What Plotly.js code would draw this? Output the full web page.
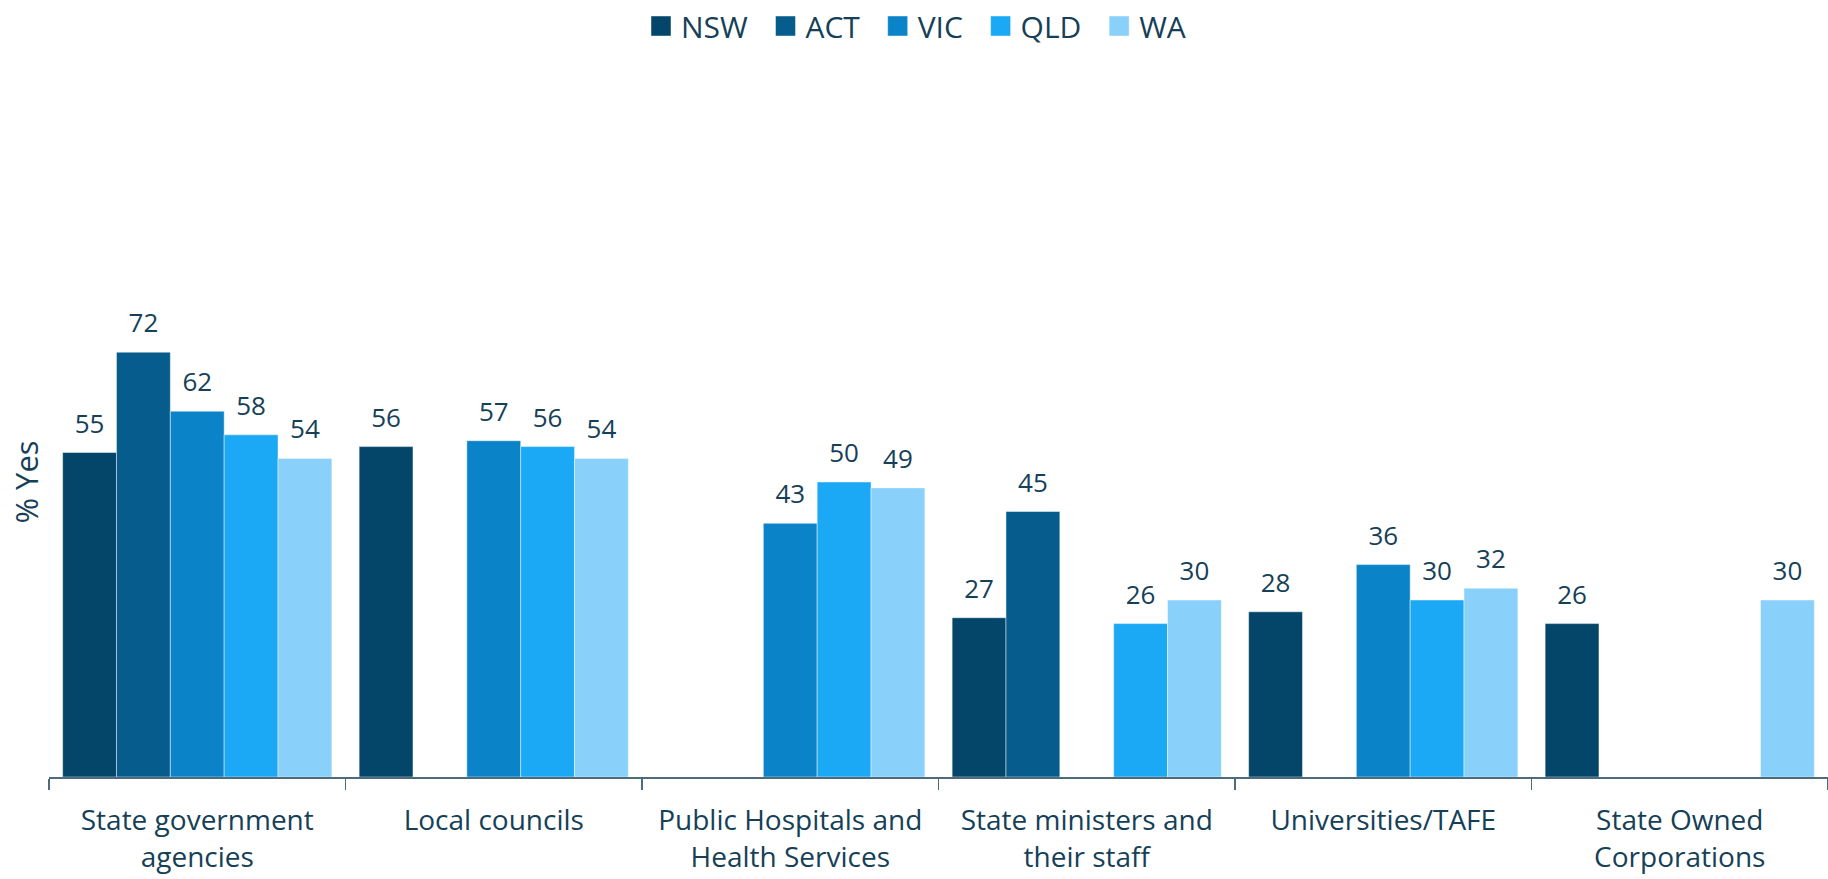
<!DOCTYPE html>
<html>
<head>
<meta charset="utf-8">
<script src="https://cdn.plot.ly/plotly-3.0.1.min.js"></script>
<style>
  html, body { margin: 0; padding: 0; background: #ffffff; }
  #chart { width: 1828px; height: 879px; }
</style>
</head>
<body>
<div id="chart"></div>
<script>
// Categories (x axis tick labels)
const categories = [
  "State government<br>agencies",
  "Local councils",
  "Public Hospitals and<br>Health Services",
  "State ministers and<br>their staff",
  "Universities/TAFE",
  "State Owned<br>Corporations"
];

// Series names
const seriesNames = ["NSW", "ACT", "VIC", "QLD", "WA"];

// Series values (% Yes); null = no bar
const nswValues = [55, 56, null, 27, 28, 26];
const actValues = [72, null, null, 45, null, null];
const vicValues = [62, 57, 43, null, 36, null];
const qldValues = [58, 56, 50, 26, 30, null];
const waValues  = [54, 54, 49, 30, 32, 30];

const seriesValues = [nswValues, actValues, vicValues, qldValues, waValues];
const seriesColors = ["#044669", "#065d8d", "#0a83c9", "#1ba8f5", "#89d0fa"];

const textColor = "#163f58";
const fontFamily = "'Open Sans', 'Noto Sans', sans-serif";

const traces = seriesNames.map((name, i) => ({
  type: "bar",
  name: name + "\u00a0\u2009",
  x: categories,
  y: seriesValues[i],
  text: seriesValues[i].map(v => v === null ? "" : String(v)),
  textposition: "outside",
  cliponaxis: false,
  textfont: { family: fontFamily, size: 26, color: textColor },
  marker: { color: seriesColors[i], line: { color: "rgba(255,255,255,0.45)", width: 1 } },
  hoverinfo: "x+y+name"
}));

const layout = {
  width: 1828,
  height: 879,
  margin: { l: 49, r: 0, t: 187, b: 102 },
  paper_bgcolor: "#ffffff",
  plot_bgcolor: "#ffffff",
  barmode: "group",
  bargap: 0.092,
  bargroupgap: 0,
  font: { family: fontFamily, color: textColor },
  showlegend: true,
  legend: {
    orientation: "h",
    x: 0.491, xanchor: "center",
    y: 1.318, yanchor: "top",
    font: { family: fontFamily, size: 30, color: textColor },
    traceorder: "normal",
    itemclick: false
  },
  xaxis: {
    type: "category",
    showline: true,
    linecolor: "#4d6b7b",
    linewidth: 1.5,
    ticks: "outside",
    tickson: "boundaries",
    ticklen: 11,
    tickcolor: "#4d6b7b",
    tickwidth: 1.2,
    ticklabelstandoff: 18,
    tickfont: { family: fontFamily, size: 28, color: textColor },
    showgrid: false,
    zeroline: false,
    automargin: false
  },
  yaxis: {
    range: [0, 100],
    showticklabels: false,
    showgrid: false,
    zeroline: false,
    showline: false,
    ticks: "",
    title: { text: "% Yes", font: { family: fontFamily, size: 31, color: textColor }, standoff: 0 },
    automargin: false
  }
};

Plotly.newPlot("chart", traces, layout, { displayModeBar: false, staticPlot: true }).then(gd => {
  try {
    // larger square legend swatches
    gd.querySelectorAll(".legend .legendpoints path").forEach(p => {
      p.setAttribute("d", "M10,10H-10V-10H10Z");
    });
    // lift the value labels a little further above the bars
    gd.querySelectorAll("text.bartext").forEach(t => {
      const tr = t.getAttribute("transform") || "";
      t.setAttribute("transform", "translate(0,-9) " + tr);
    });
  } catch (e) { console.log(e); }
});
</script>
</body>
</html>
